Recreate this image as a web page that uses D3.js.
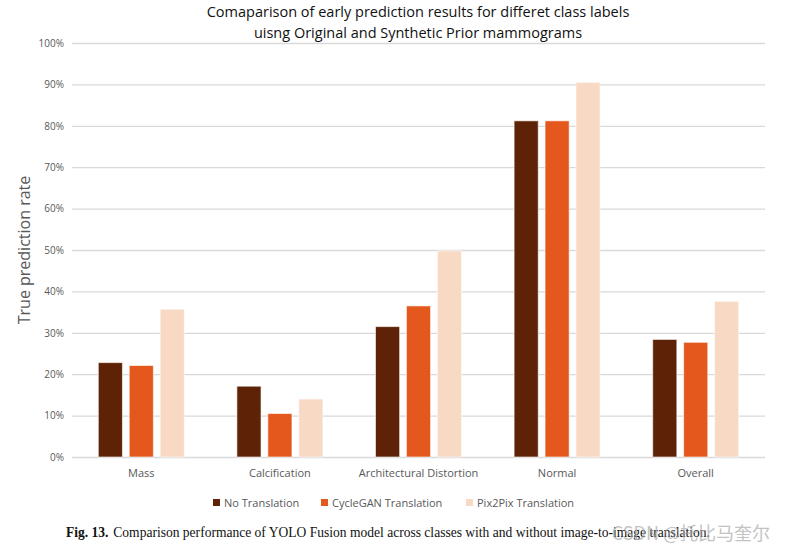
<!DOCTYPE html>
<html><head><meta charset="utf-8">
<script src="https://cdn.jsdelivr.net/npm/d3@7/dist/d3.min.js"></script>
<style>body{margin:0;background:#fff;}svg{display:block;}</style>
</head><body>
<svg id="c" width="785" height="552"></svg>
<script>
const categories = ["Mass","Calcification","Architectural Distortion","Normal","Overall"];
const seriesNames = ["No Translation","CycleGAN Translation","Pix2Pix Translation"];
const noTranslation = [22.8, 17.1, 31.5, 81.2, 28.4];
const cycleGAN = [22.1, 10.5, 36.5, 81.2, 27.7];
const pix2pix = [35.7, 14.0, 49.8, 90.5, 37.6];
const yTicks = [0,10,20,30,40,50,60,70,80,90,100];
const colors = ["#5E2206","#E4581D","#F8D9C4"];
const series = [noTranslation, cycleGAN, pix2pix];

(function(){
const svg = d3.select("#c");
const font = "'Open Sans', sans-serif";
const pLeft = 72, pRight = 765, pTop = 43, pBottom = 457;

const x = d3.scaleBand().domain(categories).range([pLeft, pRight]).paddingInner(0).paddingOuter(0);
const xs = d3.scaleBand().domain(d3.range(3)).range([0, 86]).paddingInner(0.22);
const y = d3.scaleLinear().domain([0,100]).range([pBottom, pTop]);

// gridlines
const yAxis = d3.axisLeft(y).tickValues(yTicks).tickFormat(d => d + "%").tickSize(-(pRight-pLeft)).tickPadding(8);
const ga = svg.append("g").attr("transform", `translate(${pLeft},0)`).call(yAxis);
ga.select(".domain").remove();
ga.selectAll(".tick line").attr("stroke", "#d9d9d9").attr("stroke-width", 1.3);
ga.selectAll(".tick text").attr("fill", "#595959").style("font-family", font).style("font-size", "10px");

// bars
const groups = svg.append("g").selectAll("g").data(categories).join("g")
  .attr("transform", d => `translate(${x(d) + x.bandwidth()/2 - 43},0)`);
groups.selectAll("rect").data((d,i) => series.map((s,j) => ({j, v: s[i]}))).join("rect")
  .attr("x", d => xs(d.j)).attr("width", xs.bandwidth())
  .attr("y", d => y(d.v)).attr("height", d => y(0) - y(d.v))
  .attr("fill", d => colors[d.j]).attr("stroke", "#ffffff").attr("stroke-opacity", 0.6).attr("stroke-width", 1);

// x axis labels
const xAxis = d3.axisBottom(x).tickSize(0).tickPadding(12);
const gx = svg.append("g").attr("transform", `translate(0,${pBottom})`).call(xAxis);
gx.select(".domain").remove();
gx.selectAll(".tick text").attr("fill", "#595959").style("font-family", font).style("font-size", "11px");

// title
svg.append("text").attr("x", 418).attr("y", 17).attr("text-anchor", "middle")
  .style("font-family", font).style("font-size", "14.5px").attr("fill", "#111")
  .text("Comaparison of early prediction results for differet class labels");
svg.append("text").attr("x", 418).attr("y", 38).attr("text-anchor", "middle")
  .style("font-family", font).style("font-size", "14.5px").attr("fill", "#111")
  .text("uisng Original and Synthetic Prior mammograms");

// y title
svg.append("text").attr("transform", "translate(30,250) rotate(-90)").attr("text-anchor", "middle")
  .style("font-family", font).style("font-size", "16px").attr("fill", "#595959")
  .text("True prediction rate");

// legend
const legX = [213, 321, 466];
const lg = svg.append("g").selectAll("g").data(seriesNames).join("g")
  .attr("transform", (d,i) => `translate(${legX[i]},503)`);
lg.append("rect").attr("x", 0).attr("y", -4).attr("width", 7).attr("height", 7).attr("fill", (d,i) => colors[i]);
lg.append("text").attr("x", 11).attr("y", 4).style("font-family", font).style("font-size", "11px").attr("fill", "#595959").text(d => d);

// caption
const cap = svg.append("text").attr("x", 66).attr("y", 537)
  .attr("textLength", 644).attr("lengthAdjust", "spacingAndGlyphs")
  .style("font-family", "'Liberation Serif', serif").style("font-size", "14px").attr("fill", "#111");
cap.append("tspan").style("font-weight", "bold").text("Fig. 13.");
cap.append("tspan").attr("dx", 5).text("Comparison performance of YOLO Fusion model across classes with and without image-to-image translation.");
svg.append("text").attr("x", 770).attr("y", 540).attr("text-anchor", "end")
  .style("font-family", "'Noto Sans CJK SC', sans-serif").style("font-size", "18px").attr("fill", "#aaaaaa").attr("opacity", 0.7)
  .text("CSDN @托比马奎尔");
})();
</script>
</body></html>
